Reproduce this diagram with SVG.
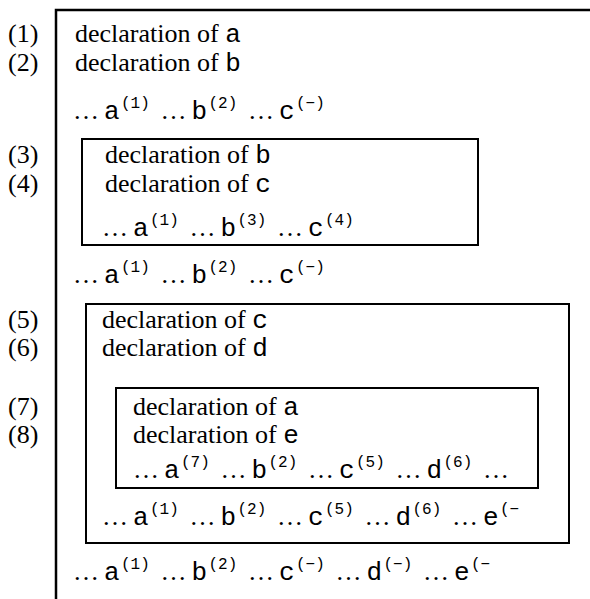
<svg xmlns="http://www.w3.org/2000/svg" width="590" height="599" viewBox="0 0 590 599">
<style>
.t{font-family:"Liberation Serif","Times New Roman",serif;font-size:26px;fill:#000}
.m{font-family:"Courier New","Liberation Mono",monospace;font-size:26px}
.s{font-family:"Courier New","Liberation Mono",monospace;font-size:16px}
.box{fill:none;stroke:#000;stroke-width:2}
.ln{fill:none;stroke:#000;stroke-width:2.5}
</style>
<rect width="590" height="599" fill="#fff"/>
<g id="connectors">
<path class="ln" d="M56,599 V10 H590"/>
</g>
<g id="labels">
<text class="t" x="8" y="42">(1)</text>
<text class="t" x="8" y="71">(2)</text>
<text class="t" x="8" y="163">(3)</text>
<text class="t" x="8" y="192">(4)</text>
<text class="t" x="8" y="328">(5)</text>
<text class="t" x="8" y="356">(6)</text>
<text class="t" x="8" y="415">(7)</text>
<text class="t" x="8" y="443">(8)</text>
</g>
<g id="outer">
<text class="t" x="75" y="42">declaration of <tspan class="m">a</tspan></text>
<text class="t" x="75" y="71">declaration of <tspan class="m">b</tspan></text>
<text class="t" y="119"><tspan x="73">…</tspan><tspan class="m" x="104">a</tspan><tspan class="s" x="121" y="108">(1)</tspan><tspan x="160.5" y="119">…</tspan><tspan class="m" x="191.5">b</tspan><tspan class="s" x="208.5" y="108">(2)</tspan><tspan x="248" y="119">…</tspan><tspan class="m" x="279">c</tspan><tspan class="s" x="296" y="108">(−)</tspan></text>
<text class="t" y="283"><tspan x="73">…</tspan><tspan class="m" x="104">a</tspan><tspan class="s" x="121" y="272">(1)</tspan><tspan x="160.5" y="283">…</tspan><tspan class="m" x="191.5">b</tspan><tspan class="s" x="208.5" y="272">(2)</tspan><tspan x="248" y="283">…</tspan><tspan class="m" x="279">c</tspan><tspan class="s" x="296" y="272">(−)</tspan></text>
<text class="t" y="580"><tspan x="73">…</tspan><tspan class="m" x="104">a</tspan><tspan class="s" x="121" y="569">(1)</tspan><tspan x="160.5" y="580">…</tspan><tspan class="m" x="191.5">b</tspan><tspan class="s" x="208.5" y="569">(2)</tspan><tspan x="248" y="580">…</tspan><tspan class="m" x="279">c</tspan><tspan class="s" x="296" y="569">(−)</tspan><tspan x="335.5" y="580">…</tspan><tspan class="m" x="366.5">d</tspan><tspan class="s" x="383.5" y="569">(−)</tspan><tspan x="423" y="580">…</tspan><tspan class="m" x="454">e</tspan><tspan class="s" x="471" y="569">(−</tspan></text>
</g>
<g id="block1">
<rect class="box" x="82" y="139" width="396" height="106"/>
<text class="t" x="105" y="163">declaration of <tspan class="m">b</tspan></text>
<text class="t" x="105" y="192">declaration of <tspan class="m">c</tspan></text>
<text class="t" y="236"><tspan x="102">…</tspan><tspan class="m" x="133">a</tspan><tspan class="s" x="150" y="225">(1)</tspan><tspan x="189.5" y="236">…</tspan><tspan class="m" x="220.5">b</tspan><tspan class="s" x="237.5" y="225">(3)</tspan><tspan x="277" y="236">…</tspan><tspan class="m" x="308">c</tspan><tspan class="s" x="325" y="225">(4)</tspan></text>
</g>
<g id="block2">
<rect class="box" x="86" y="304" width="483" height="239"/>
<text class="t" x="102" y="328">declaration of <tspan class="m">c</tspan></text>
<text class="t" x="102" y="356">declaration of <tspan class="m">d</tspan></text>
<text class="t" y="525"><tspan x="102">…</tspan><tspan class="m" x="133">a</tspan><tspan class="s" x="150" y="514">(1)</tspan><tspan x="189.5" y="525">…</tspan><tspan class="m" x="220.5">b</tspan><tspan class="s" x="237.5" y="514">(2)</tspan><tspan x="277" y="525">…</tspan><tspan class="m" x="308">c</tspan><tspan class="s" x="325" y="514">(5)</tspan><tspan x="364.5" y="525">…</tspan><tspan class="m" x="395.5">d</tspan><tspan class="s" x="412.5" y="514">(6)</tspan><tspan x="452" y="525">…</tspan><tspan class="m" x="483">e</tspan><tspan class="s" x="500" y="514">(−</tspan></text>
</g>
<g id="block3">
<rect class="box" x="116" y="388" width="422" height="100"/>
<text class="t" x="133" y="415">declaration of <tspan class="m">a</tspan></text>
<text class="t" x="133" y="443">declaration of <tspan class="m">e</tspan></text>
<text class="t" y="478"><tspan x="133">…</tspan><tspan class="m" x="164">a</tspan><tspan class="s" x="181" y="467">(7)</tspan><tspan x="220.5" y="478">…</tspan><tspan class="m" x="251.5">b</tspan><tspan class="s" x="268.5" y="467">(2)</tspan><tspan x="308" y="478">…</tspan><tspan class="m" x="339">c</tspan><tspan class="s" x="356" y="467">(5)</tspan><tspan x="395.5" y="478">…</tspan><tspan class="m" x="426.5">d</tspan><tspan class="s" x="443.5" y="467">(6)</tspan><tspan x="483" y="478">…</tspan></text>
</g>
</svg>
